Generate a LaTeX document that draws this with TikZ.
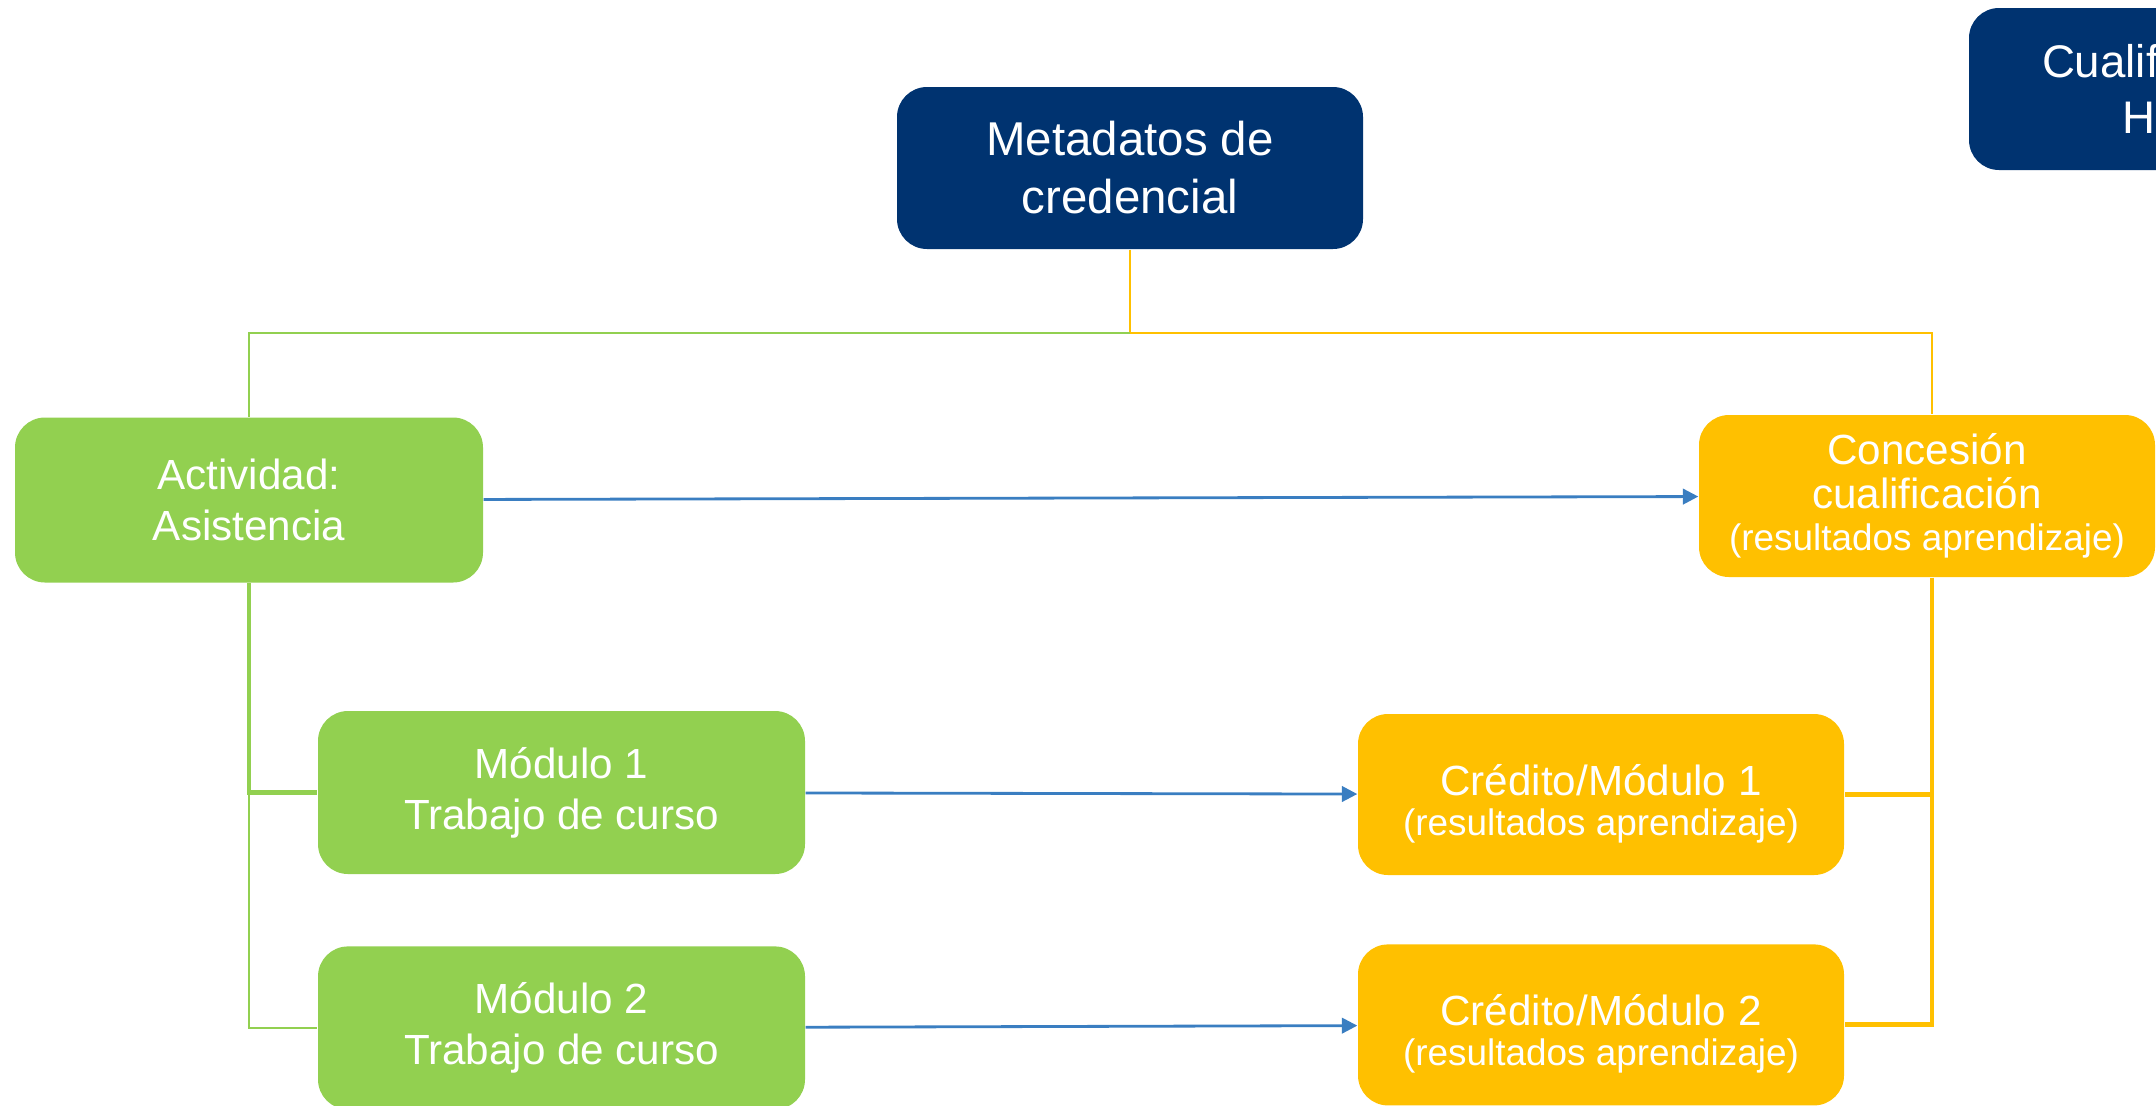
\documentclass[tikz,border=0pt]{standalone}
\usepackage{fontspec}
\setmainfont{Liberation Sans}
\usepackage{tikz}
\usetikzlibrary{positioning, calc, arrows.meta}
\definecolor{darkblue}{RGB}{0,51,112}
\definecolor{leafgreen}{RGB}{146,208,80}
\definecolor{amber}{RGB}{255,192,0}
\definecolor{arrowblue}{RGB}{58,126,193}
\tikzset{>={Triangle[length=4.4pt, width=4.4pt]}}
\tikzset{card/.style={rounded corners=3mm, align=center, text=white, inner sep=0pt, minimum height=1.63cm}}
\tikzset{greenbox/.style={card, fill=leafgreen, font=\fontsize{12}{14.6}\selectfont}}
\tikzset{amberbox/.style={card, fill=amber, font=\fontsize{12}{12.5}\selectfont}}
\tikzset{bluebox/.style={card, fill=darkblue, minimum height=1.62cm}}

\begin{document}
\begin{tikzpicture}
    [thin link/.style={line width=0.6pt},
      thick link/.style={line width=1.4pt},
      flow/.style={->, draw=arrowblue, line width=0.8pt}]

    \useasboundingbox (0,0) rectangle (21.56,-11.05);
    \clip (0,0) rectangle (21.56,-11.05);

    \node[bluebox, minimum width=4.66cm, font=\fontsize{13.5}{16.5}\selectfont]
    (M) at (11.30,-1.68) {Metadatos de\\credencial};
    \node[bluebox, minimum width=4.05cm, font=\fontsize{13}{16}\selectfont]
    (Q) at (21.715,-0.89) {Cualificación\\HND};

    \node[greenbox, minimum width=4.68cm, minimum height=1.65cm] (A) at (2.49,-5.0) {Actividad:\\Asistencia};
    \node[amberbox, minimum width=4.56cm, minimum height=1.62cm] (C) at (19.27,-4.96)
    {Concesión\\cualificación\\[-0.5pt]{\fontsize{10.5}{12}\selectfont (resultados aprendizaje)}};

    \node[greenbox, minimum width=4.87cm] (M1) at (5.615,-7.925) {Módulo 1\\Trabajo de curso};
    \node[greenbox, minimum width=4.87cm, below=0.71cm of M1] (M2) {Módulo 2\\Trabajo de curso};

    \node[amberbox, minimum width=4.86cm, minimum height=1.61cm] (K1) at (16.01,-7.945)
    {\rule{0pt}{14pt}Crédito/Módulo 1\\[-1pt]{\fontsize{10.5}{12}\selectfont (resultados aprendizaje)}};
    \node[amberbox, minimum width=4.86cm, minimum height=1.61cm, below=0.68cm of K1] (K2)
    {\rule{0pt}{14pt}Crédito/Módulo 2\\[-1pt]{\fontsize{10.5}{12}\selectfont (resultados aprendizaje)}};

    % tree from the credential metadata
    \coordinate (split) at ($(M.south)+(0,-0.83)$);
    \draw[amber, thin link] (M.south) -- (split) -| ($(C.north)+(0.05,0)$);
    \draw[leafgreen, thin link] (split) -| (A.north);

    % activity to modules
    \coordinate (gj) at (A.south |- M1.west);
    \draw[leafgreen, thick link] (A.south) |- (M1.west);
    \draw[leafgreen, thin link] (gj) |- (M2.west);

    % award to credits
    \coordinate (yj) at ($(C.south)+(0.05,0)$);
    \draw[amber, thick link] (yj) |- (K1.east);
    \draw[amber, thick link] (yj |- K1.east) |- (K2.east);

    \draw[flow] (A) -- (C);
    \draw[flow] (M1) -- (K1);
    \draw[flow] (M2) -- (K2);
  \end{tikzpicture}
\end{document}
